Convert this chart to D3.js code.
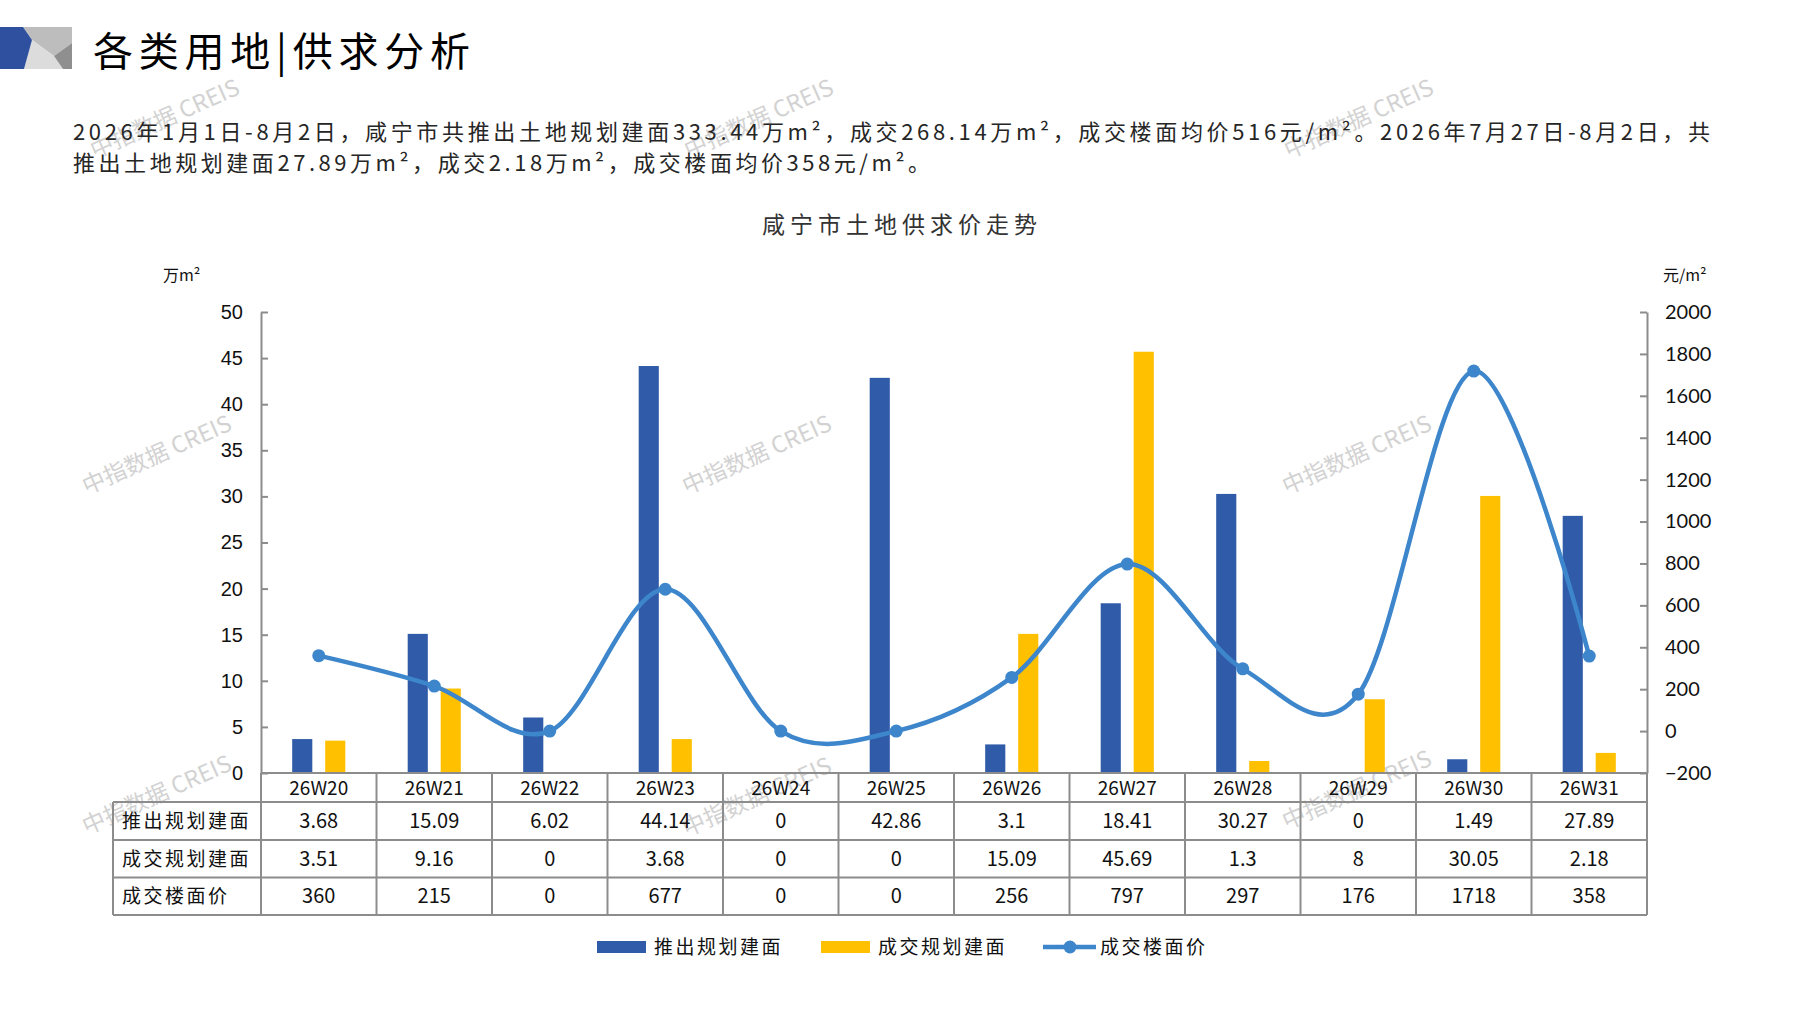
<!DOCTYPE html>
<html>
<head>
<meta charset="utf-8">
<title>咸宁市土地供求价走势</title>
<script src="https://d3js.org/d3.v7.min.js"></script>
<style>
  body { margin: 0; background: #fff; }
  text { font-family: "Noto Sans CJK SC", sans-serif; }
  .tick text { font-family: "Liberation Sans", Arial, sans-serif; font-size: 20px; fill: #111; }
  .right .tick text { font-family: Lato, "Liberation Sans", sans-serif; }
</style>
</head>
<body>
<div id="chart"></div>
<script>
// data
var categories = ["26W20", "26W21", "26W22", "26W23", "26W24", "26W25", "26W26", "26W27", "26W28", "26W29", "26W30", "26W31"];
var supplyArea = [3.68, 15.09, 6.02, 44.14, 0, 42.86, 3.1, 18.41, 30.27, 0, 1.49, 27.89];
var dealArea = [3.51, 9.16, 0, 3.68, 0, 0, 15.09, 45.69, 1.3, 8, 30.05, 2.18];
var dealPrice = [360, 215, 0, 677, 0, 0, 256, 797, 297, 176, 1718, 358];
var seriesNames = ["推出规划建面", "成交规划建面", "成交楼面价"];
var leftTicks = [0, 5, 10, 15, 20, 25, 30, 35, 40, 45, 50];
var rightTicks = [-200, 0, 200, 400, 600, 800, 1000, 1200, 1400, 1600, 1800, 2000];

var W = 1797, H = 1010;
var blue = "#2f5ba8", yellow = "#ffc000", lineBlue = "#3d86cc", gridGray = "#8c8c8c";

var svg = d3.select("#chart").append("svg")
  .attr("width", W).attr("height", H);

// watermarks
var marks = [[168, 126], [762, 126], [1362, 126], [160, 462], [760, 462], [1360, 462], [160, 802], [760, 804], [1360, 797]];
svg.append("g").selectAll("text").data(marks).enter().append("text")
  .attr("transform", function(d) { return "translate(" + d[0] + "," + d[1] + ") rotate(-24)"; })
  .attr("text-anchor", "middle")
  .attr("font-size", 23)
  .attr("fill", "#c4c4c4")
  .attr("opacity", 0.75)
  .text("中指数据 CREIS");

// page header icon
var icon = svg.append("g");
icon.append("polygon").attr("points", "23,27 72,27 72,43 54,56 32,40").attr("fill", "#bdbdbd");
icon.append("polygon").attr("points", "32,40 54,56 63,69 24,69").attr("fill", "#dcdcdc");
icon.append("polygon").attr("points", "72,43 72,69 63,69 54,56").attr("fill", "#8f8f8f");
icon.append("polygon").attr("points", "0,27 23,27 32,40 24,69 0,69").attr("fill", "#2f4f9f");

svg.append("text")
  .attr("x", 93).attr("y", 66)
  .attr("font-size", 40)
  .attr("fill", "#000")
  .attr("textLength", 377).attr("lengthAdjust", "spacing")
  .text("各类用地|供求分析");

svg.append("text")
  .attr("x", 73).attr("y", 140)
  .attr("font-size", 22).attr("fill", "#262626")
  .attr("textLength", 1637).attr("lengthAdjust", "spacing")
  .text("2026年1月1日-8月2日，咸宁市共推出土地规划建面333.44万m²，成交268.14万m²，成交楼面均价516元/m²。2026年7月27日-8月2日，共");
svg.append("text")
  .attr("x", 73).attr("y", 171)
  .attr("font-size", 22).attr("fill", "#262626")
  .attr("textLength", 857).attr("lengthAdjust", "spacing")
  .text("推出土地规划建面27.89万m²，成交2.18万m²，成交楼面均价358元/m²。");

// chart title
svg.append("text")
  .attr("x", 902).attr("y", 233)
  .attr("text-anchor", "middle")
  .attr("font-size", 23).attr("letter-spacing", 5)
  .attr("fill", "#333")
  .text("咸宁市土地供求价走势");

// scales
var x0 = 261, x1 = 1647, yTop = 312, yBase = 773;
var x = d3.scaleBand().domain(categories).range([x0, x1]);
var bw = x.bandwidth();
var xs = d3.scaleBand().domain(["supply", "deal"]).range([bw * 0.27, bw * 0.73]).paddingInner(0.39);
var yL = d3.scaleLinear().domain([0, 50]).range([yBase, yTop]);
var yR = d3.scaleLinear().domain([-200, 2000]).range([yBase, yTop]);

// axes
var axL = svg.append("g").attr("transform", "translate(" + x0 + ",0)")
  .call(d3.axisLeft(yL).tickValues(leftTicks).tickSizeInner(-7).tickSizeOuter(0).tickPadding(18));
var axR = svg.append("g").attr("class", "right").attr("transform", "translate(" + x1 + ",0)")
  .call(d3.axisRight(yR).tickValues(rightTicks).tickFormat(d3.format("d"))
    .tickSizeInner(-7).tickSizeOuter(0).tickPadding(18));
[axL, axR].forEach(function(a) {
  a.selectAll("path, line").attr("stroke", gridGray).attr("stroke-width", 2);
});

svg.append("text").attr("x", 163).attr("y", 281).attr("font-size", 16).attr("fill", "#111").text("万m²");
svg.append("text").attr("x", 1663).attr("y", 281).attr("font-size", 16).attr("fill", "#111").text("元/m²");

// bars
svg.append("g").selectAll("rect").data(supplyArea).enter().append("rect")
  .attr("x", function(d, i) { return x(categories[i]) + xs("supply"); })
  .attr("y", function(d) { return yL(d); })
  .attr("width", xs.bandwidth())
  .attr("height", function(d) { return yBase - yL(d); })
  .attr("fill", blue);
svg.append("g").selectAll("rect").data(dealArea).enter().append("rect")
  .attr("x", function(d, i) { return x(categories[i]) + xs("deal"); })
  .attr("y", function(d) { return yL(d); })
  .attr("width", xs.bandwidth())
  .attr("height", function(d) { return yBase - yL(d); })
  .attr("fill", yellow);

// price line
var line = d3.line()
  .x(function(d, i) { return x(categories[i]) + bw / 2; })
  .y(function(d) { return yR(d); })
  .curve(d3.curveCardinal.tension(0));
svg.append("path").datum(dealPrice)
  .attr("d", line)
  .attr("fill", "none").attr("stroke", lineBlue).attr("stroke-width", 4.5);
svg.append("g").selectAll("circle").data(dealPrice).enter().append("circle")
  .attr("cx", function(d, i) { return x(categories[i]) + bw / 2; })
  .attr("cy", function(d) { return yR(d); })
  .attr("r", 6.5).attr("fill", lineBlue);

// data table
var rowY = [773, 802, 840, 877.5, 915];
var tLeft = 113;
var table = svg.append("g").attr("stroke", gridGray).attr("stroke-width", 2);
table.append("line").attr("x1", x0).attr("x2", x1).attr("y1", rowY[0]).attr("y2", rowY[0]);
rowY.slice(1).forEach(function(yy) {
  table.append("line").attr("x1", tLeft).attr("x2", x1).attr("y1", yy).attr("y2", yy);
});
table.append("line").attr("x1", tLeft).attr("x2", tLeft).attr("y1", rowY[1]).attr("y2", rowY[4]);
table.selectAll("line.col").data(categories.concat(["end"])).enter().append("line")
  .attr("class", "col")
  .attr("x1", function(d) { return d === "end" ? x1 : x(d); })
  .attr("x2", function(d) { return d === "end" ? x1 : x(d); })
  .attr("y1", rowY[0]).attr("y2", rowY[4]);

svg.append("g").selectAll("text").data(categories).enter().append("text")
  .attr("x", function(d) { return x(d) + bw / 2; })
  .attr("y", (rowY[0] + rowY[1]) / 2 + 7)
  .attr("text-anchor", "middle").attr("font-size", 19).attr("fill", "#111")
  .text(function(d) { return d; });

var rows = [supplyArea, dealArea, dealPrice];
rows.forEach(function(vals, r) {
  var cy = (rowY[r + 1] + rowY[r + 2]) / 2 + 7;
  svg.append("text")
    .attr("x", 122).attr("y", cy)
    .attr("font-size", 19).attr("letter-spacing", 2.5).attr("fill", "#111")
    .text(seriesNames[r]);
  svg.append("g").selectAll("text").data(vals).enter().append("text")
    .attr("x", function(d, i) { return x(categories[i]) + bw / 2; })
    .attr("y", cy)
    .attr("text-anchor", "middle").attr("font-size", 20).attr("fill", "#111")
    .text(function(d) { return String(d); });
});

// legend
var legend = svg.append("g").attr("transform", "translate(0,947)");
var legendItems = [
  { name: seriesNames[0], x: 597, type: "bar", color: blue },
  { name: seriesNames[1], x: 821, type: "bar", color: yellow },
  { name: seriesNames[2], x: 1043, type: "line", color: lineBlue }
];
legendItems.forEach(function(it) {
  if (it.type === "bar") {
    legend.append("rect").attr("x", it.x).attr("y", -6).attr("width", 49).attr("height", 12).attr("fill", it.color);
  } else {
    legend.append("line").attr("x1", it.x).attr("x2", it.x + 53).attr("y1", 0).attr("y2", 0)
      .attr("stroke", it.color).attr("stroke-width", 4.5);
    legend.append("circle").attr("cx", it.x + 27).attr("cy", 0).attr("r", 6.5).attr("fill", it.color);
  }
  legend.append("text").attr("x", it.x + 57).attr("y", 7)
    .attr("font-size", 19).attr("letter-spacing", 2.5).attr("fill", "#111")
    .text(it.name);
});
</script>
</body>
</html>
